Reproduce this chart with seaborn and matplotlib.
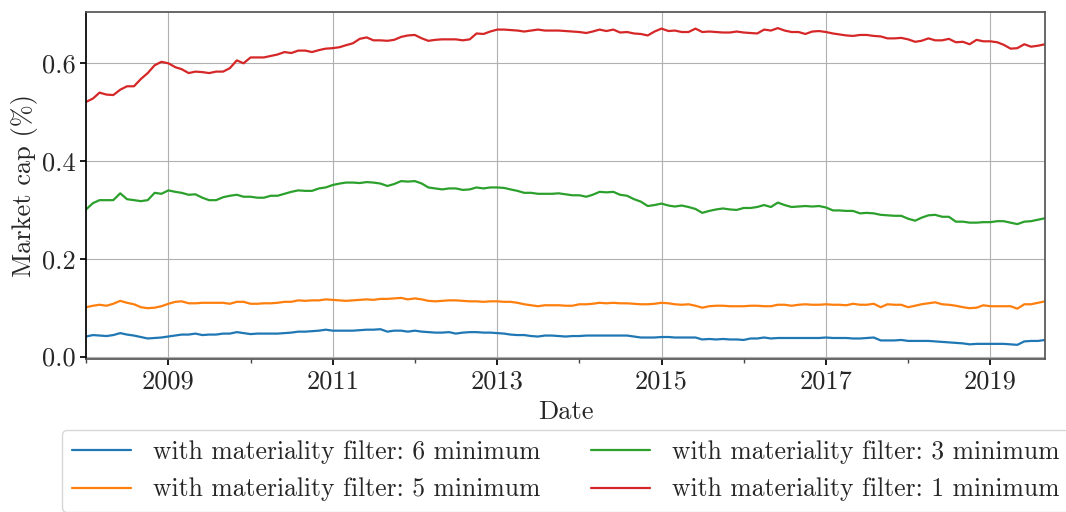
import pandas as pd
import numpy as np
import matplotlib
matplotlib.use("Agg")
import matplotlib.pyplot as plt
import matplotlib.dates as mdates
import seaborn as sns

# monthly series, Jan 2008 - Sep 2019
start_month = "2008-01-01"
n_months = 141

filter_6 = [0.041, 0.044, 0.043, 0.042, 0.044, 0.048, 0.045, 0.043, 0.040, 0.037,
            0.038, 0.039, 0.041, 0.043, 0.045, 0.045, 0.047, 0.044, 0.045, 0.045,
            0.047, 0.047, 0.050, 0.048, 0.046, 0.047, 0.047, 0.047, 0.047, 0.048,
            0.049, 0.051, 0.051, 0.052, 0.053, 0.055, 0.053, 0.053, 0.053, 0.053,
            0.054, 0.055, 0.055, 0.056, 0.051, 0.053, 0.053, 0.051, 0.053, 0.051,
            0.050, 0.049, 0.049, 0.050, 0.047, 0.049, 0.050, 0.050, 0.049, 0.049,
            0.048, 0.047, 0.045, 0.044, 0.044, 0.042, 0.041, 0.043, 0.043, 0.042,
            0.041, 0.042, 0.042, 0.043, 0.043, 0.043, 0.043, 0.043, 0.043, 0.043,
            0.041, 0.039, 0.039, 0.039, 0.040, 0.040, 0.039, 0.039, 0.039, 0.039,
            0.035, 0.036, 0.035, 0.036, 0.035, 0.035, 0.034, 0.037, 0.037, 0.039,
            0.037, 0.038, 0.038, 0.038, 0.038, 0.038, 0.038, 0.038, 0.039, 0.038,
            0.038, 0.038, 0.037, 0.037, 0.038, 0.039, 0.033, 0.033, 0.033, 0.034,
            0.032, 0.032, 0.032, 0.032, 0.031, 0.030, 0.029, 0.028, 0.027, 0.025,
            0.026, 0.026, 0.026, 0.026, 0.026, 0.025, 0.024, 0.031, 0.032, 0.032,
            0.034]

filter_5 = [0.101, 0.104, 0.106, 0.104, 0.108, 0.114, 0.110, 0.107, 0.101, 0.099,
            0.100, 0.103, 0.108, 0.112, 0.113, 0.109, 0.109, 0.110, 0.110, 0.110,
            0.110, 0.108, 0.112, 0.112, 0.108, 0.108, 0.109, 0.109, 0.110, 0.112,
            0.112, 0.115, 0.114, 0.115, 0.115, 0.117, 0.116, 0.115, 0.114, 0.115,
            0.116, 0.117, 0.116, 0.118, 0.118, 0.119, 0.120, 0.117, 0.119, 0.117,
            0.114, 0.113, 0.114, 0.115, 0.115, 0.114, 0.113, 0.113, 0.112, 0.113,
            0.113, 0.112, 0.112, 0.110, 0.107, 0.105, 0.103, 0.105, 0.105, 0.105,
            0.104, 0.104, 0.107, 0.107, 0.108, 0.110, 0.109, 0.110, 0.109, 0.109,
            0.108, 0.107, 0.107, 0.108, 0.110, 0.109, 0.107, 0.106, 0.107, 0.104,
            0.100, 0.103, 0.104, 0.104, 0.103, 0.103, 0.103, 0.104, 0.104, 0.103,
            0.103, 0.106, 0.106, 0.104, 0.106, 0.107, 0.106, 0.106, 0.107, 0.106,
            0.106, 0.105, 0.108, 0.106, 0.106, 0.108, 0.101, 0.107, 0.106, 0.106,
            0.101, 0.104, 0.107, 0.109, 0.111, 0.107, 0.106, 0.104, 0.101, 0.099,
            0.100, 0.105, 0.103, 0.103, 0.103, 0.103, 0.098, 0.107, 0.107, 0.110,
            0.113]

filter_3 = [0.301, 0.314, 0.320, 0.320, 0.320, 0.334, 0.322, 0.320, 0.318, 0.320,
            0.335, 0.333, 0.340, 0.337, 0.335, 0.331, 0.332, 0.325, 0.320, 0.320,
            0.326, 0.329, 0.331, 0.327, 0.327, 0.325, 0.325, 0.329, 0.329, 0.333,
            0.337, 0.340, 0.339, 0.339, 0.344, 0.346, 0.351, 0.354, 0.356, 0.356,
            0.355, 0.357, 0.356, 0.354, 0.349, 0.353, 0.359, 0.358, 0.359, 0.354,
            0.346, 0.344, 0.342, 0.344, 0.344, 0.341, 0.342, 0.346, 0.344, 0.346,
            0.346, 0.345, 0.342, 0.339, 0.335, 0.335, 0.333, 0.333, 0.333, 0.334,
            0.332, 0.330, 0.330, 0.327, 0.331, 0.337, 0.336, 0.337, 0.331, 0.329,
            0.322, 0.317, 0.308, 0.310, 0.313, 0.309, 0.307, 0.309, 0.306, 0.302,
            0.294, 0.298, 0.301, 0.303, 0.301, 0.300, 0.304, 0.304, 0.306, 0.310,
            0.306, 0.315, 0.310, 0.306, 0.307, 0.308, 0.307, 0.308, 0.305, 0.299,
            0.299, 0.298, 0.298, 0.293, 0.294, 0.293, 0.290, 0.289, 0.288, 0.288,
            0.282, 0.278, 0.284, 0.289, 0.290, 0.286, 0.286, 0.276, 0.276, 0.274,
            0.274, 0.275, 0.275, 0.277, 0.277, 0.274, 0.271, 0.276, 0.277, 0.280,
            0.283]

filter_1 = [0.521, 0.528, 0.540, 0.536, 0.535, 0.546, 0.553, 0.553, 0.568, 0.580,
            0.596, 0.603, 0.600, 0.592, 0.588, 0.580, 0.583, 0.582, 0.580, 0.583,
            0.583, 0.590, 0.606, 0.600, 0.612, 0.612, 0.612, 0.615, 0.618, 0.623,
            0.621, 0.626, 0.626, 0.623, 0.627, 0.630, 0.631, 0.633, 0.637, 0.641,
            0.650, 0.653, 0.647, 0.647, 0.646, 0.648, 0.654, 0.657, 0.658, 0.651,
            0.646, 0.648, 0.649, 0.649, 0.649, 0.647, 0.649, 0.661, 0.660, 0.665,
            0.669, 0.669, 0.668, 0.667, 0.665, 0.667, 0.669, 0.667, 0.667, 0.667,
            0.666, 0.665, 0.664, 0.662, 0.665, 0.669, 0.666, 0.669, 0.663, 0.664,
            0.661, 0.660, 0.657, 0.665, 0.671, 0.666, 0.667, 0.664, 0.664, 0.671,
            0.664, 0.665, 0.664, 0.663, 0.663, 0.665, 0.663, 0.662, 0.661, 0.669,
            0.667, 0.672, 0.667, 0.664, 0.664, 0.660, 0.665, 0.666, 0.664, 0.661,
            0.659, 0.657, 0.656, 0.658, 0.658, 0.656, 0.655, 0.651, 0.651, 0.652,
            0.649, 0.644, 0.646, 0.651, 0.647, 0.647, 0.650, 0.643, 0.644, 0.639,
            0.648, 0.645, 0.645, 0.643, 0.638, 0.630, 0.631, 0.639, 0.634, 0.636,
            0.639]

labels = ["with materiality filter: 6 minimum",
          "with materiality filter: 5 minimum",
          "with materiality filter: 3 minimum",
          "with materiality filter: 1 minimum"]
colors = ["#1f77b4", "#ff7f0e", "#2ca02c", "#d62728"]
major_years = ["2009", "2011", "2013", "2015", "2017", "2019"]

dates = pd.date_range(start_month, periods=n_months, freq="MS")
df = pd.DataFrame({"Date": dates, labels[0]: filter_6, labels[1]: filter_5,
                   labels[2]: filter_3, labels[3]: filter_1})
long_df = df.melt(id_vars="Date", var_name="series", value_name="value")

sns.set_theme(style="ticks")
plt.rcParams["font.family"] = ["cmr10", "DejaVu Serif"]
plt.rcParams["mathtext.fontset"] = "cm"
plt.rcParams["axes.formatter.use_mathtext"] = True

fig = plt.figure(figsize=(10.66, 5.12), dpi=100)
ax = fig.add_axes([0.0807, 0.2988, 0.8996, 0.6778])

sns.lineplot(data=long_df, x="Date", y="value", hue="series", hue_order=labels,
             palette=colors, linewidth=1.6, ax=ax, legend=False)

ax.set_xlim(dates[0], dates[-1])
ax.set_ylim(-0.005, 0.705)
ax.set_yticks([0.0, 0.2, 0.4, 0.6])
ax.set_yticklabels(["0.0", "0.2", "0.4", "0.6"])
ax.set_xticks(pd.to_datetime([y + "-01-01" for y in major_years]))
ax.set_xticklabels(major_years)
ax.xaxis.set_minor_locator(mdates.YearLocator(1))
ax.grid(True, which="major", color="#b0b0b0", linewidth=0.8)
ax.tick_params(axis="both", which="major", labelsize=19, length=4, color="black")
ax.tick_params(axis="x", which="minor", length=3, color="#444444")
for side in ["top", "right", "bottom"]:
    ax.spines[side].set_color("#555555")
ax.spines["left"].set_color("black")

ax.set_xlabel("Date", fontsize=19, labelpad=5)
ax.set_ylabel("Market cap (%)", fontsize=19, labelpad=3)

handles = ax.get_lines()[:4]
fig.legend(handles, labels, loc="upper left", bbox_to_anchor=(0.046, 0.186),
           ncol=2, fontsize=18.5, labelspacing=0.55, handlelength=2.3,
           handletextpad=0.85, columnspacing=1.95, frameon=True,
           edgecolor="#cccccc", fancybox=True)

fig.savefig("out.png", dpi=100)
